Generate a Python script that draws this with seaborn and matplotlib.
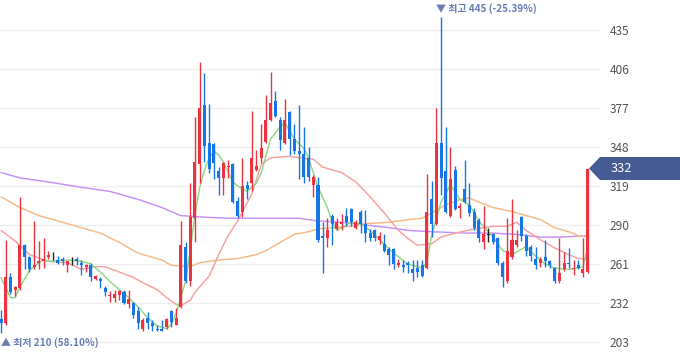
import matplotlib
matplotlib.use("Agg")
import matplotlib.pyplot as plt
from matplotlib.patches import Polygon
import numpy as np
import pandas as pd
import seaborn as sns

# ---------------- data ----------------
opens = [220, 217, 251, 242, 243, 275, 266, 259, 262, 263,
         266, 267, 264, 265, 260, 264, 265, 262, 259, 260,
         250, 250, 243, 237, 236, 238, 240, 231, 232, 226,
         213, 221, 217, 213, 213, 214, 226, 216, 229, 274,
         248, 295, 335, 379, 351, 350, 330, 325, 333, 335,
         308, 300, 320, 321, 331, 340, 352, 368, 382, 368,
         351, 374, 354, 345, 343, 340, 320, 320, 282, 280,
         297, 287, 291, 297, 302, 288, 300, 291, 284, 286,
         279, 276, 272, 272, 260, 260, 262, 257, 258, 260,
         258, 309, 291, 351, 330, 297, 331, 303, 317, 305,
         300, 294, 277, 283, 283, 280, 262, 248, 266, 275,
         296, 282, 274, 265, 262, 266, 263, 258, 248, 257,
         262, 257, 260, 254, 255]
highs = [227, 279, 254, 245, 311, 276, 267, 293, 278, 280,
         271, 270, 267, 266, 263, 266, 266, 264, 261, 262,
         253, 251, 245, 241, 242, 242, 242, 242, 233, 229,
         221, 225, 219, 216, 219, 221, 227, 228, 293, 277,
         321, 370, 411, 403, 380, 351, 333, 337, 338, 336,
         311, 340, 323, 375, 346, 365, 387, 404, 390, 370,
         384, 375, 365, 379, 363, 348, 327, 326, 292, 295,
         298, 295, 298, 303, 303, 294, 301, 301, 287, 287,
         285, 283, 274, 273, 265, 264, 263, 264, 264, 264,
         328, 323, 377, 445, 363, 348, 334, 306, 338, 321,
         303, 295, 304, 288, 284, 281, 263, 295, 309, 286,
         297, 283, 275, 274, 266, 279, 264, 259, 280, 270,
         273, 264, 264, 280, 332]
lows = [210, 216, 239, 237, 242, 257, 255, 257, 257, 258,
        265, 264, 261, 260, 255, 260, 260, 253, 255, 248,
        249, 243, 237, 233, 233, 234, 231, 228, 221, 213,
        211, 213, 211, 211, 211, 213, 214, 216, 228, 247,
        245, 277, 321, 337, 329, 324, 312, 312, 325, 306,
        295, 296, 309, 315, 330, 336, 351, 367, 370, 346,
        350, 342, 343, 324, 321, 323, 311, 277, 254, 274,
        275, 286, 286, 289, 289, 287, 284, 277, 278, 278,
        276, 270, 260, 257, 259, 255, 254, 248, 251, 251,
        257, 281, 290, 312, 299, 296, 301, 295, 306, 297,
        286, 277, 272, 277, 276, 260, 244, 247, 265, 274,
        278, 267, 263, 257, 259, 259, 258, 247, 247, 256,
        258, 253, 257, 251, 254]
closes = [217, 251, 240, 244, 275, 266, 257, 260, 263, 265,
          268, 267, 262, 263, 263, 264, 263, 260, 260, 251,
          252, 248, 240, 238, 239, 241, 232, 235, 223, 217,
          219, 217, 215, 212, 211, 220, 218, 221, 275, 248,
          296, 337, 377, 349, 332, 336, 325, 336, 334, 307,
          297, 319, 317, 340, 334, 347, 368, 381, 371, 353,
          368, 354, 345, 343, 326, 326, 326, 279, 280, 286,
          291, 292, 292, 292, 292, 292, 291, 284, 280, 280,
          282, 271, 268, 261, 262, 259, 260, 254, 255, 252,
          300, 291, 351, 325, 300, 324, 302, 304, 307, 299,
          288, 280, 283, 283, 277, 262, 251, 271, 279, 279,
          282, 271, 267, 260, 265, 263, 260, 248, 254, 262,
          261, 258, 258, 257, 332]

# moving averages: (candle index, value)
ma5_idx = [0, 2, 3, 4, 6, 8, 9, 10, 14, 17, 19, 21, 23, 27, 29, 31, 33, 35, 36,
           37, 38, 39, 40, 41, 42, 43, 44, 45, 46, 47, 49, 50, 52, 54, 55, 57, 59,
           60, 62, 64, 65, 67, 69, 70, 71, 72, 74, 76, 78, 80, 83, 86, 89, 90, 91,
           93, 95, 97, 99, 101, 104, 106, 108, 110, 111, 112, 115, 117, 120, 122,
           123, 124]
ma5_val = [251, 236, 236, 244, 256, 262, 264, 263, 264, 263, 261, 255, 248, 236,
           229, 221, 215, 213, 216, 224, 236, 248, 271, 298, 318, 331, 340, 345,
           342, 337, 322, 319, 315, 321, 329, 354, 363, 366, 354, 347, 340, 318,
           303, 292, 286, 288, 292, 291, 286, 279, 269, 261, 258, 262, 282, 307,
           320, 309, 305, 293, 281, 271, 268, 272, 274, 270, 261, 258, 257, 258,
           259, 273]
ma20_idx = [0, 3, 6, 10, 14, 17, 20, 22, 25, 28, 30, 33, 35, 37, 38, 40, 41, 42,
            44, 46, 48, 50, 53, 55, 57, 61, 63, 66, 68, 72, 75, 78, 81, 84, 86, 88,
            91, 93, 96, 100, 104, 107, 109, 111, 114, 117, 120, 122, 124]
ma20_val = [286, 278, 268, 263, 262, 257, 259, 259, 255, 251, 247, 242, 236, 231,
            230, 234, 240, 244, 252, 268, 282, 293, 313, 335, 340, 341, 340, 339,
            333, 329, 322, 311, 299, 286, 280, 275, 276, 281, 284, 287, 289, 289,
            292, 286, 279, 273, 268, 265, 265]
ma60_idx = [0, 4, 8, 13, 17, 21, 25, 29, 34, 36, 40, 42, 46, 50, 54, 56, 59, 62,
            65, 67, 70, 74, 77, 82, 86, 89, 91, 94, 97, 99, 101, 104, 108, 111,
            114, 117, 120, 122, 124]
ma60_val = [311, 303, 297, 292, 288, 284, 277, 269, 264, 260, 259, 262, 264, 265,
            268, 271, 277, 283, 285, 287, 288, 289, 291, 292, 294, 295, 299, 305,
            309, 310, 307, 303, 300, 297, 294, 288, 285, 282, 281]
ma120_idx = [0, 4, 10, 17, 23, 29, 34, 38, 42, 48, 56, 63, 67, 72, 77, 82, 86, 91,
             98, 104, 109, 114, 118, 124]
ma120_val = [329, 325, 322, 318, 315, 309, 303, 297, 296, 295, 295, 295, 293, 292,
             290, 288, 286, 285, 284, 284, 283, 281, 281, 282]

y_ticks = [203, 232, 261, 290, 319, 348, 377, 406, 435]
high_label = "▼ 최고 445 (-25.39%)"
low_label = "▲ 최저 210 (58.10%)"
last_label = "332"

# ---------------- drawing ----------------
sns.set_theme(style="white")
plt.rcParams['font.family'] = ['Noto Sans CJK KR', 'DejaVu Sans']

W, H = 680, 358
fig = plt.figure(figsize=(W / 100, H / 100), dpi=100)
ax = fig.add_axes([0, 0, 600 / W, 1])

RED = "#ee3340"
BLUE = "#1676e8"
DOJI = "#222222"

n = len(closes)
idx = np.arange(n)
o = np.array(opens, float)
c = np.array(closes, float)
h = np.array(highs, float)
l = np.array(lows, float)
col = np.where(c > o, RED, np.where(c < o, BLUE, DOJI))

# moving averages via seaborn
ma_specs = [(ma120_idx, ma120_val, "#c690f7"),
            (ma60_idx, ma60_val, "#f8b985"),
            (ma20_idx, ma20_val, "#f6a0a0"),
            (ma5_idx, ma5_val, "#8fd884")]
for xi, yv, cc in ma_specs:
    df = pd.DataFrame({"i": xi, "v": yv})
    sns.lineplot(data=df, x="i", y="v", ax=ax, color=cc, linewidth=1.05,
                 estimator=None, sort=True, zorder=2)

# wicks
ax.vlines(idx, l, h, colors=col, linewidth=1.0, zorder=3)
# bodies
body_h = np.abs(c - o)
body_b = np.minimum(c, o)
ax.bar(idx, np.maximum(body_h, 0.6), bottom=np.where(body_h < 0.6, body_b - 0.3, body_b),
       width=0.64, color=col, linewidth=0, zorder=4)

ax.set_xlim(-0.21, 126.6)
ax.set_ylim(191.1, 457.3)
for s in ax.spines.values():
    s.set_visible(False)
ax.set_xticks([])
ax.set_yticks(y_ticks)
ax.set_yticklabels([str(t) for t in y_ticks])
ax.yaxis.tick_right()
ax.tick_params(axis='y', length=0, pad=7, labelsize=8.6, labelcolor="#555555")
for t in y_ticks:
    ax.axhline(t, color="#efeff2", linewidth=0.9, zorder=0)
ax.set_xlabel("")
ax.set_ylabel("")
ax.grid(False)

# high / low annotations
hi_i = int(np.argmax(h))
lo_i = int(np.argmin(l))
ax.annotate(high_label, xy=(hi_i, h[hi_i]), xytext=(-3.5, 2), textcoords="offset points",
            ha="left", va="bottom", fontsize=7.2, color="#6a7cb4", fontweight="bold",
            annotation_clip=False)
ax.annotate(low_label, xy=(lo_i, l[lo_i]), xytext=(0, -3.5), textcoords="offset points",
            ha="left", va="top", fontsize=7.2, color="#6a7cb4", fontweight="bold",
            annotation_clip=False)

# last price tag
fig.canvas.draw()
_, yd = ax.transData.transform((0, c[-1]))
hh = 11.5
tip = 589
pts = [(tip, yd), (tip + 11, yd + hh), (W, yd + hh), (W, yd - hh), (tip + 11, yd - hh)]
fig.patches.append(Polygon(pts, closed=True, transform=None, facecolor="#465b94",
                           edgecolor="none", figure=fig))
fig.text(611 / W, yd / H, last_label, ha="left", va="center", fontsize=9.2, color="white")

fig.savefig("out.png", dpi=100)
